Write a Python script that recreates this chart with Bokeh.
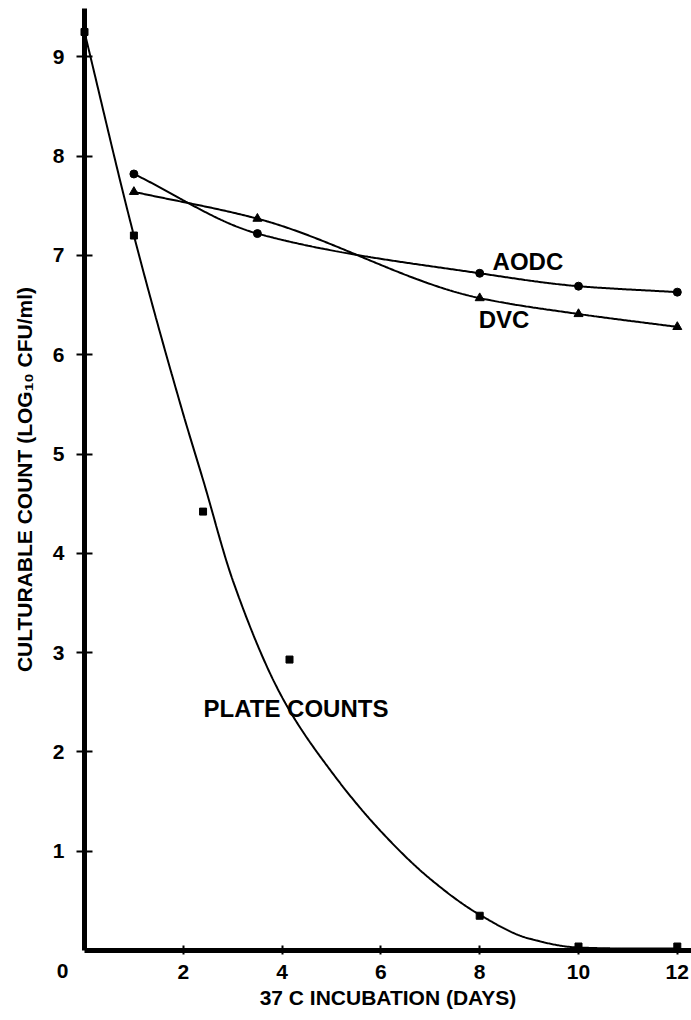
import numpy as np
from bokeh.plotting import figure
from bokeh.models import Range1d, FixedTicker, Label, LinearAxis
from bokeh.embed import file_html
from bokeh.resources import INLINE

# Direct viable counts and acridine orange direct counts (log10 per ml)
days_aodc = [1, 3.5, 8, 10, 12]
aodc = [7.82, 7.22, 6.82, 6.69, 6.63]
days_dvc = [1, 3.5, 8, 10, 12]
dvc = [7.64, 7.37, 6.57, 6.41, 6.28]

# Plate counts (measured points)
days_plate = [0, 1, 2.4, 4.15, 8, 10, 12]
plate = [9.25, 7.2, 4.42, 2.93, 0.35, 0.04, 0.04]

# Hand-fitted decay curve for the plate counts
plate_fit_days = [0, 1, 2, 2.4, 3, 4, 5, 6, 7, 8, 9, 10, 11, 12]
plate_fit = [9.25, 7.2, 5.4, 4.74, 3.73, 2.55, 1.8, 1.2, 0.72, 0.36, 0.12, 0.03, 0.02, 0.02]

x_ticks = [2, 4, 6, 8, 10, 12]
y_ticks = [1, 2, 3, 4, 5, 6, 7, 8, 9]

FONT = "Liberation Sans"

# canvas geometry: the axes cross at (ORIGIN_X, ORIGIN_Y) pixels
W, H = 691, 1020
ORIGIN_X, ORIGIN_Y = 84, 950
PX_PER_DAY, PX_PER_LOG = 49.4, 99.3
X_MAX = (W - ORIGIN_X) / PX_PER_DAY
Y_MAX = (ORIGIN_Y - 8) / PX_PER_LOG


def smooth(x, y, n=400):
    """Monotone cubic (PCHIP) curve through the given knots."""
    x = np.asarray(x, float)
    y = np.asarray(y, float)
    h = np.diff(x)
    d = np.diff(y) / h
    m = np.zeros_like(y)
    for k in range(1, len(x) - 1):
        if d[k - 1] * d[k] > 0:
            w1 = 2 * h[k] + h[k - 1]
            w2 = h[k] + 2 * h[k - 1]
            m[k] = (w1 + w2) / (w1 / d[k - 1] + w2 / d[k])
    m[0] = d[0]
    m[-1] = d[-1]
    xs = np.linspace(x[0], x[-1], n)
    idx = np.clip(np.searchsorted(x, xs) - 1, 0, len(h) - 1)
    t = (xs - x[idx]) / h[idx]
    h00 = 2 * t**3 - 3 * t**2 + 1
    h10 = t**3 - 2 * t**2 + t
    h01 = -2 * t**3 + 3 * t**2
    h11 = t**3 - t**2
    ys = (h00 * y[idx] + h10 * h[idx] * m[idx]
          + h01 * y[idx + 1] + h11 * h[idx] * m[idx + 1])
    return xs, ys


p = figure(
    width=W, height=H, title=None,
    x_range=Range1d(-ORIGIN_X / PX_PER_DAY, X_MAX),
    y_range=Range1d(-(H - ORIGIN_Y) / PX_PER_LOG, ORIGIN_Y / PX_PER_LOG),
    x_axis_location=None, y_axis_location=None,
    output_backend="svg", toolbar_location=None,
    min_border=0,
)
p.grid.visible = False
p.outline_line_color = None
p.background_fill_color = "white"
p.border_fill_color = "white"

label_style = dict(
    major_label_text_font=FONT, major_label_text_font_size="21px",
    major_label_text_font_style="bold", major_label_text_color="black",
    axis_label_text_font=FONT, axis_label_text_font_size="21px",
    axis_label_text_font_style="bold", axis_label_text_color="black",
    minor_tick_line_color=None, major_tick_line_width=2,
    axis_line_width=5,
)

# x axis, pinned at y = 0
xaxis = LinearAxis(
    fixed_location=0, bounds=(0, X_MAX),
    ticker=FixedTicker(ticks=x_ticks),
    major_tick_in=5, major_tick_out=4, major_label_standoff=10,
    axis_label="37 C INCUBATION (DAYS)", axis_label_standoff=4,
    **label_style,
)
p.add_layout(xaxis, "below")

# y axis, pinned at x = 0
yaxis = LinearAxis(
    fixed_location=0, bounds=(0, Y_MAX),
    ticker=FixedTicker(ticks=y_ticks),
    major_tick_in=8, major_tick_out=8, major_label_standoff=12,
    axis_label="CULTURABLE COUNT (LOG\u2081\u2080 CFU/ml)", axis_label_standoff=14,
    **label_style,
)
p.add_layout(yaxis, "left")

# shared origin label below-left of the corner
p.add_layout(Label(x=0, y=0, x_offset=-22, y_offset=-20, text="0",
                   text_font=FONT, text_font_size="21px",
                   text_font_style="bold", text_align="center",
                   text_baseline="middle", text_color="black"))

# curves
xs, ys = smooth(days_aodc, aodc)
p.line(xs, ys, line_color="black", line_width=2)
xs, ys = smooth(days_dvc, dvc)
p.line(xs, ys, line_color="black", line_width=2)
xs, ys = smooth(plate_fit_days, plate_fit, n=600)
p.line(xs, ys, line_color="black", line_width=2)

# markers
p.scatter(days_aodc, aodc, marker="circle", size=8, color="black")
p.scatter(days_dvc, dvc, marker="triangle", size=9, color="black")
p.scatter(days_plate, plate, marker="square", size=7, color="black")

# series labels
for txt, x, y in [("AODC", 8.26, 6.94), ("DVC", 7.98, 6.35),
                  ("PLATE COUNTS", 2.41, 2.44)]:
    p.add_layout(Label(x=x, y=y, text=txt, text_font=FONT,
                       text_font_size="24px", text_font_style="bold",
                       text_baseline="middle", text_align="left",
                       text_color="black"))

open("out.html", "w").write(file_html(p, INLINE))
